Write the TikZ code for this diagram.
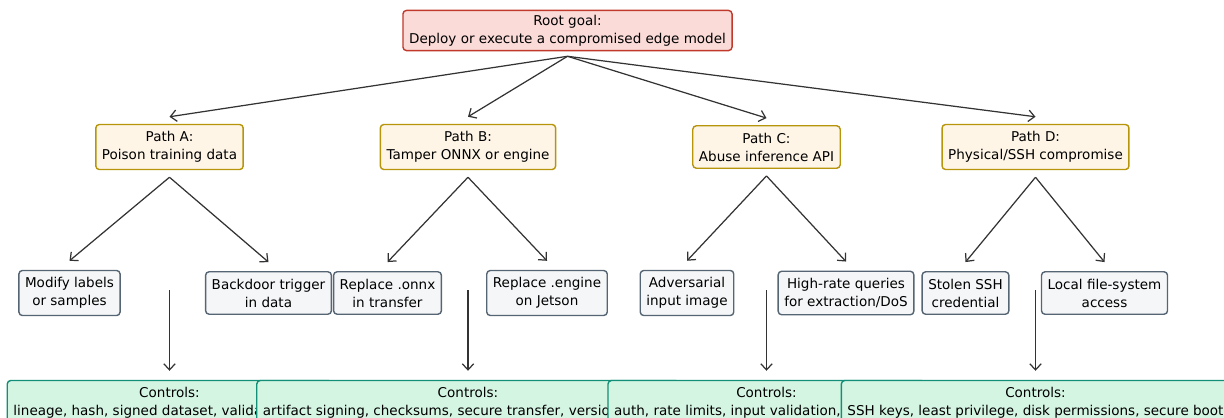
\documentclass[tikz,border=0pt]{standalone}
\usepackage{fontspec}
\setmainfont{DejaVu Sans}
\usetikzlibrary{arrows.meta}

\definecolor{rootfill}{HTML}{FADBD8}
\definecolor{rootline}{HTML}{C0392B}
\definecolor{pathfill}{HTML}{FEF5E7}
\definecolor{pathline}{HTML}{B7950B}
\definecolor{leaffill}{HTML}{F4F6F7}
\definecolor{leafline}{HTML}{566573}
\definecolor{ctrlfill}{HTML}{D5F5E3}
\definecolor{ctrlline}{HTML}{148F77}
\definecolor{arrowgray}{HTML}{333333}

\tikzset{
  box/.style={rounded corners=2pt, line width=0.8pt, align=center,
    inner xsep=3.5pt, inner ysep=2.6pt,
    font=\fontsize{7.7}{10.2}\selectfont},
  rootbox/.style={box, draw=rootline, fill=rootfill},
  pathbox/.style={box, draw=pathline, fill=pathfill, inner ysep=4pt},
  leafbox/.style={box, draw=leafline, fill=leaffill, inner ysep=4pt},
  ctrlbox/.style={box, draw=ctrlline, fill=ctrlfill, inner ysep=4pt},
  link/.style={draw=arrowgray, line width=0.7pt,
    -{Straight Barb[length=3.5pt,width=6.5pt]}},
}

\begin{document}
\begin{tikzpicture}[x=0.02cm, y=-0.02cm]
% Page frame (pixel units, y downwards)
\useasboundingbox (0,0) rectangle (1224,417);
\clip (0,0) rectangle (1224,417);

% Root goal
\node[rootbox] (root) at (567.5,30.5) {Root goal:\\Deploy or execute a compromised edge model};

% Attack paths
\node[pathbox] (pathA) at (169.5,147) {Path A:\\Poison training data};
\node[pathbox] (pathB) at (468,147) {Path B:\\Tamper ONNX or engine};
\node[pathbox] (pathC) at (766.5,147) {Path C:\\Abuse inference API};
\node[pathbox] (pathD) at (1035.5,147) {Path D:\\Physical/SSH compromise};

% Leaf steps
\node[leafbox] (modify) at (69.5,293) {Modify labels\\or samples};
\node[leafbox] (backdoor) at (268.5,293) {Backdoor trigger\\in data};
\node[leafbox] (onnx) at (387.5,293) {Replace .onnx\\in transfer};
\node[leafbox] (engine) at (547,293) {Replace .engine\\on Jetson};
\node[leafbox] (adversarial) at (687,293) {Adversarial\\input image};
\node[leafbox] (queries) at (846,293) {High-rate queries\\for extraction/DoS};
\node[leafbox] (stolen) at (965.5,293) {Stolen SSH\\credential};
\node[leafbox] (filesys) at (1104.5,293) {Local file-system\\access};

% Root to paths
\foreach \p in {pathA,pathB,pathC,pathD}
  \draw[link] ([yshift=-0.1cm]root.south) -- ([yshift=0.14cm]\p.north);

% Paths to leaves
\foreach \p/\q in {pathA/modify, pathA/backdoor, pathB/onnx, pathB/engine,
                   pathC/adversarial, pathC/queries, pathD/stolen, pathD/filesys}
  \draw[link] ([yshift=-0.14cm]\p.south) -- ([yshift=0.18cm]\q.north);

% Controls (drawn left to right, each one over the last)
\coordinate (dropA) at (169.5,290);
\coordinate (dropB) at (468,290);
\coordinate (dropC) at (766.5,290);
\coordinate (dropD) at (1035.5,290);
\node[ctrlbox] (ctrlA) at (169.5,403) {Controls:\\lineage, hash, signed dataset, validation tests};
\node[ctrlbox] (ctrlB) at (468,403) {Controls:\\artifact signing, checksums, secure transfer, version pinning};
\node[ctrlbox] (ctrlC) at (766.5,403) {Controls:\\auth, rate limits, input validation, monitoring};
\node[ctrlbox] (ctrlD) at (1035.5,403) {Controls:\\SSH keys, least privilege, disk permissions, secure boot};
\foreach \c in {A,B,C,D}
  \draw[link] (drop\c) -- ([yshift=0.18cm]ctrl\c.north);
\end{tikzpicture}
\end{document}
